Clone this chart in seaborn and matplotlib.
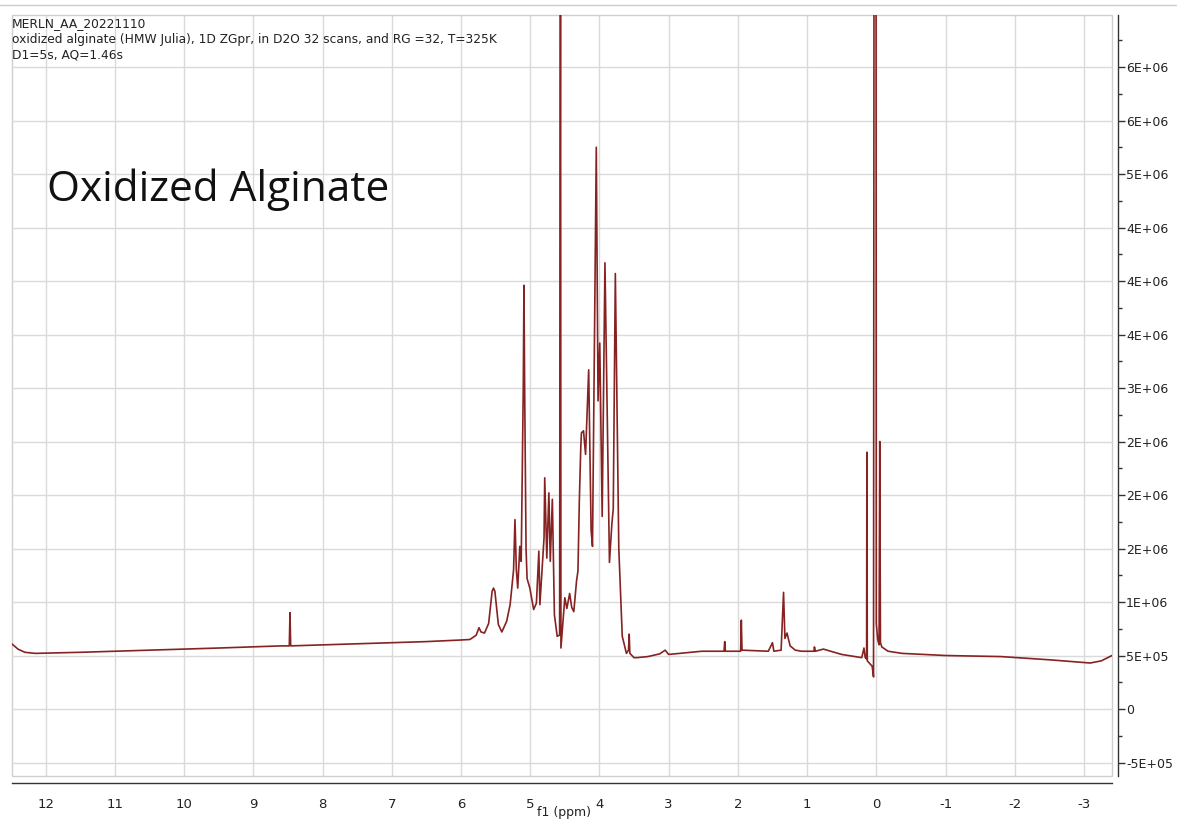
import matplotlib
matplotlib.use("Agg")
import matplotlib.pyplot as plt
import seaborn as sns
import pandas as pd
from matplotlib.lines import Line2D
from matplotlib.ticker import MultipleLocator

# ---------------- data ----------------
ppm = [12.49, 12.40, 12.30, 12.15, 11.50, 10.50, 9.50, 8.60, 8.48, 8.47, 8.46,
       7.50, 6.50, 6.00, 5.87, 5.78, 5.74, 5.71, 5.66, 5.60, 5.55, 5.53, 5.51,
       5.46, 5.41, 5.34, 5.29, 5.24, 5.22, 5.20, 5.18, 5.15, 5.13, 5.10, 5.09,
       5.08, 5.06, 5.045, 5.005, 4.98, 4.95, 4.91, 4.875, 4.86, 4.80, 4.79,
       4.76, 4.73, 4.71, 4.68, 4.65, 4.61, 4.575, 4.562, 4.556, 4.50, 4.47,
       4.43, 4.40, 4.37, 4.33, 4.31, 4.29, 4.27, 4.26, 4.23, 4.20, 4.155, 4.12,
       4.10, 4.045, 4.02, 3.995, 3.96, 3.92, 3.855, 3.82, 3.80, 3.77, 3.72,
       3.67, 3.64, 3.61, 3.58, 3.57, 3.56, 3.50, 3.46, 3.30, 3.13, 3.05, 3.00,
       2.52, 2.20, 2.19, 2.18, 1.96, 1.95, 1.94, 1.56, 1.50, 1.48, 1.375, 1.34,
       1.32, 1.29, 1.245, 1.17, 1.08, 0.90, 0.894, 0.88, 0.765, 0.50, 0.21,
       0.178, 0.16, 0.14, 0.136, 0.13, 0.06, 0.04, 0.032, 0.004, 0.000, -0.02,
       -0.04, -0.05, -0.06, -0.08, -0.17, -0.37, -1.00, -1.80, -2.50, -3.09,
       -3.25, -3.405]
intensity = [0.61, 0.56, 0.53, 0.52, 0.53, 0.55, 0.57, 0.59, 0.59, 0.90, 0.59,
             0.61, 0.63, 0.645, 0.65, 0.69, 0.76, 0.72, 0.71, 0.80, 1.10, 1.13, 1.10,
             0.79, 0.72, 0.82, 0.975, 1.30, 1.77, 1.30, 1.13, 1.52, 1.38, 3.00, 3.96,
             3.00, 1.50, 1.22, 1.13, 1.04, 0.93, 0.99, 1.475, 0.975, 1.60, 2.16,
             1.41, 2.02, 1.38, 1.96, 0.88, 0.68, 0.69, 8.00, 0.57, 1.04, 0.94,
             1.08, 0.95, 0.91, 1.20, 1.29, 1.95, 2.43, 2.58, 2.60, 2.38, 3.17, 1.67,
             1.52, 5.25, 2.88, 3.42, 1.80, 4.17, 1.37, 1.73, 1.87, 4.07, 1.50,
             0.68, 0.60, 0.52, 0.55, 0.70, 0.52, 0.48, 0.48, 0.49, 0.515, 0.55, 0.51,
             0.54, 0.54, 0.63, 0.54, 0.54, 0.83, 0.55, 0.54, 0.62, 0.54, 0.55, 1.09,
             0.66, 0.71, 0.59, 0.55, 0.54, 0.54, 0.58, 0.54, 0.56, 0.51, 0.48,
             0.57, 0.48, 0.47, 2.40, 0.45, 0.40, 0.30, 8.00, 8.00, 0.80, 0.65,
             0.60, 2.50, 0.62, 0.58, 0.54, 0.52, 0.50, 0.49, 0.46, 0.43,
             0.45, 0.50]
intensity = [v * 1e6 for v in intensity]

x_ticks = [12, 11, 10, 9, 8, 7, 6, 5, 4, 3, 2, 1, 0, -1, -2, -3]
x_tick_labels = [str(t) for t in x_ticks]
y_ticks = [-0.5e6, 0, 0.5e6, 1.0e6, 1.5e6, 2.0e6, 2.5e6, 3.0e6, 3.5e6,
           4.0e6, 4.5e6, 5.0e6, 5.5e6, 6.0e6]
y_tick_labels = ['-5E+05', '0', '5E+05', '1E+06', '2E+06', '2E+06', '2E+06',
                 '3E+06', '4E+06', '4E+06', '4E+06', '5E+06', '6E+06', '6E+06']

header_lines = ["MERLN_AA_20221110",
                "oxidized alginate (HMW Julia), 1D ZGpr, in D2O 32 scans, and RG =32, T=325K",
                "D1=5s, AQ=1.46s"]
title_text = "Oxidized Alginate"
x_label = "f1 (ppm)"

# ---------------- figure ----------------
sns.set_style("white")
plt.rcParams['font.family'] = ['DejaVu Sans']
plt.rcParams['axes.unicode_minus'] = False

W, H = 1177, 822
fig = plt.figure(figsize=(W / 100, H / 100), dpi=100)
ax = fig.add_axes([12 / W, 1 - 776 / H, 1100 / W, 761 / H])

df = pd.DataFrame({"ppm": ppm, "intensity": intensity})
sns.lineplot(data=df, x="ppm", y="intensity", ax=ax, sort=False,
             estimator=None, color="#862222", linewidth=1.2)

ax.set_xlim(12.486, -3.405)
ax.set_ylim(-0.626e6, 6.486e6)

ax.set_xticks(x_ticks)
ax.set_xticklabels(x_tick_labels)
ax.set_yticks(y_ticks)
ax.set_yticklabels(y_tick_labels)
ax.xaxis.set_minor_locator(MultipleLocator(0.5))
ax.yaxis.set_minor_locator(MultipleLocator(0.25e6))

ax.yaxis.tick_right()
ax.yaxis.set_label_position("right")
ax.set_ylabel("")
ax.set_xlabel(x_label, fontsize=9, color="#222222")
ax.xaxis.set_label_coords(0.502, -0.039)

ax.grid(True, which="major", color="#dadada", linewidth=1)
ax.set_axisbelow(True)

for s in ["left", "top"]:
    ax.spines[s].set_visible(False)
ax.spines["bottom"].set_position(("outward", 5))
ax.spines["right"].set_position(("outward", 4))
for s in ["bottom", "right"]:
    ax.spines[s].set_color("#333333")
    ax.spines[s].set_linewidth(1)

ax.patch.set_edgecolor("#cfcfcf")
ax.patch.set_linewidth(1)

ax.tick_params(axis="x", which="major", direction="out", length=6, width=1,
               color="#333333", labelsize=9.5, labelcolor="#222222", pad=5)
ax.tick_params(axis="x", which="minor", direction="out", length=3, width=1,
               color="#333333")
ax.tick_params(axis="y", which="major", direction="out", length=5, width=1,
               color="#333333", labelsize=9, labelcolor="#222222", pad=1,
               left=False, right=True)
ax.tick_params(axis="y", which="minor", direction="out", length=3, width=1,
               color="#333333", left=False, right=True)

# header text
for i, line in enumerate(header_lines):
    fig.text(12 / W, 1 - (24 + 15.5 * i) / H, line, fontsize=8.8,
             color="#222222", va="center", ha="left")

ax.text(0.032, 0.77, title_text, transform=ax.transAxes, fontsize=30.5,
        family=["Open Sans", "DejaVu Sans"], color="#111111",
        va="center", ha="left")

# thin top line across the image
fig.add_artist(Line2D([0, 1], [1 - 5 / H, 1 - 5 / H], color="#cccccc",
                      linewidth=1, transform=fig.transFigure))

fig.savefig("out.png", dpi=100)
